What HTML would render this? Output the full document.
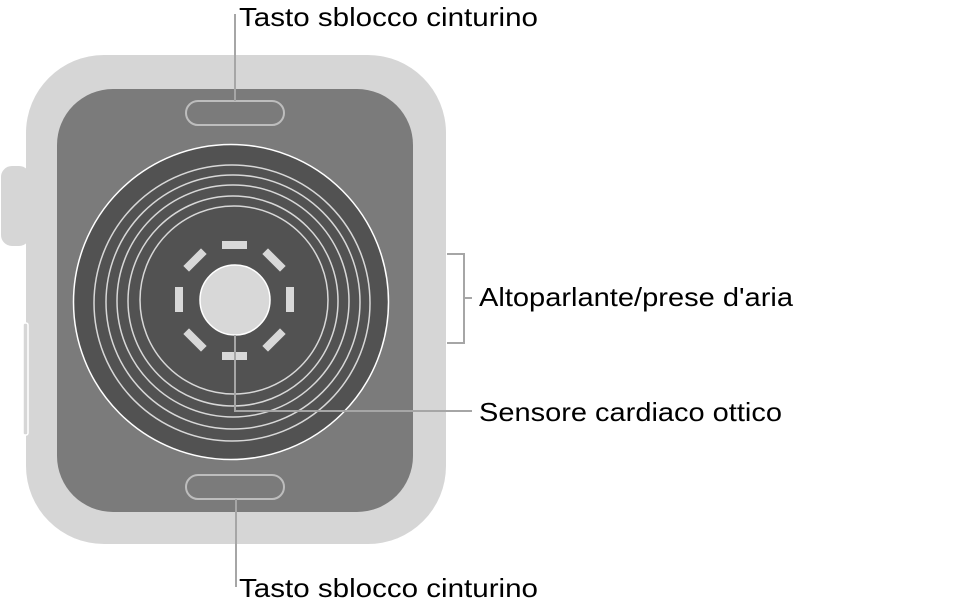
<!DOCTYPE html>
<html><head><meta charset="utf-8"><style>
html,body{margin:0;padding:0;background:#fff;}
svg{display:block;}
text{font-family:"Liberation Sans",sans-serif;font-size:26px;fill:#000;}
</style></head><body>
<svg width="958" height="606" viewBox="0 0 958 606" xmlns="http://www.w3.org/2000/svg">
<!-- crown -->
<rect x="0" y="165" width="31" height="82" rx="12" fill="#d6d6d6" stroke="#fff" stroke-width="2"/>
<!-- case -->
<rect x="26" y="55" width="420" height="489" rx="78" fill="#d6d6d6"/>
<!-- side button -->
<rect x="23" y="323" width="5" height="112" rx="2" fill="#d6d6d6" stroke="#fff" stroke-width="1.5"/>
<!-- back panel -->
<rect x="57" y="89" width="356" height="423" rx="56" fill="#7b7b7b"/>
<!-- pills -->
<rect x="186" y="101" width="98" height="24" rx="12" fill="#7b7b7b" stroke="#bdbdbd" stroke-width="2"/>
<rect x="186" y="475" width="98" height="24" rx="12" fill="#7b7b7b" stroke="#bdbdbd" stroke-width="2"/>
<!-- sensor disc -->
<circle cx="231" cy="302" r="157.5" fill="#525252" stroke="#fff" stroke-width="1.5"/>
<g fill="none" stroke="#d8d8d8" stroke-width="1.5">
<circle cx="232" cy="303" r="138"/>
<circle cx="233" cy="302" r="127"/>
<circle cx="233" cy="301" r="116"/>
<circle cx="233" cy="301" r="105"/>
<circle cx="234" cy="300" r="94"/>
</g>
<!-- dashes -->
<g fill="#d8d8d8">
<rect x="222" y="241" width="25" height="8"/>
<rect x="222" y="352" width="25" height="8"/>
<rect x="175" y="287" width="8" height="25"/>
<rect x="286" y="287" width="8" height="25"/>
<rect x="-12.5" y="-4" width="25" height="8" transform="translate(195,260) rotate(-45)"/>
<rect x="-12.5" y="-4" width="25" height="8" transform="translate(274,260) rotate(45)"/>
<rect x="-12.5" y="-4" width="25" height="8" transform="translate(195,340) rotate(45)"/>
<rect x="-12.5" y="-4" width="25" height="8" transform="translate(274,340) rotate(-45)"/>
</g>
<circle cx="235" cy="300" r="35" fill="#d8d8d8" stroke="#fff" stroke-width="1.5"/>
<!-- leaders -->
<g fill="none" stroke="#a6a6a6" stroke-width="2">
<line x1="235" y1="14" x2="235" y2="101"/>
<line x1="236" y1="499" x2="236" y2="587"/>
<polyline points="235,335 235,411 472,411"/>
<polyline points="447,254 464,254 464,343 447,343"/>
<line x1="464" y1="298" x2="472" y2="298"/>
</g>
<text x="239" y="26" textLength="299" lengthAdjust="spacingAndGlyphs">Tasto sblocco cinturino</text>
<text x="239" y="597" textLength="299" lengthAdjust="spacingAndGlyphs">Tasto sblocco cinturino</text>
<text x="479" y="306" textLength="314" lengthAdjust="spacingAndGlyphs">Altoparlante/prese d'aria</text>
<text x="479" y="421" textLength="303" lengthAdjust="spacingAndGlyphs">Sensore cardiaco ottico</text>
</svg>
</body></html>
